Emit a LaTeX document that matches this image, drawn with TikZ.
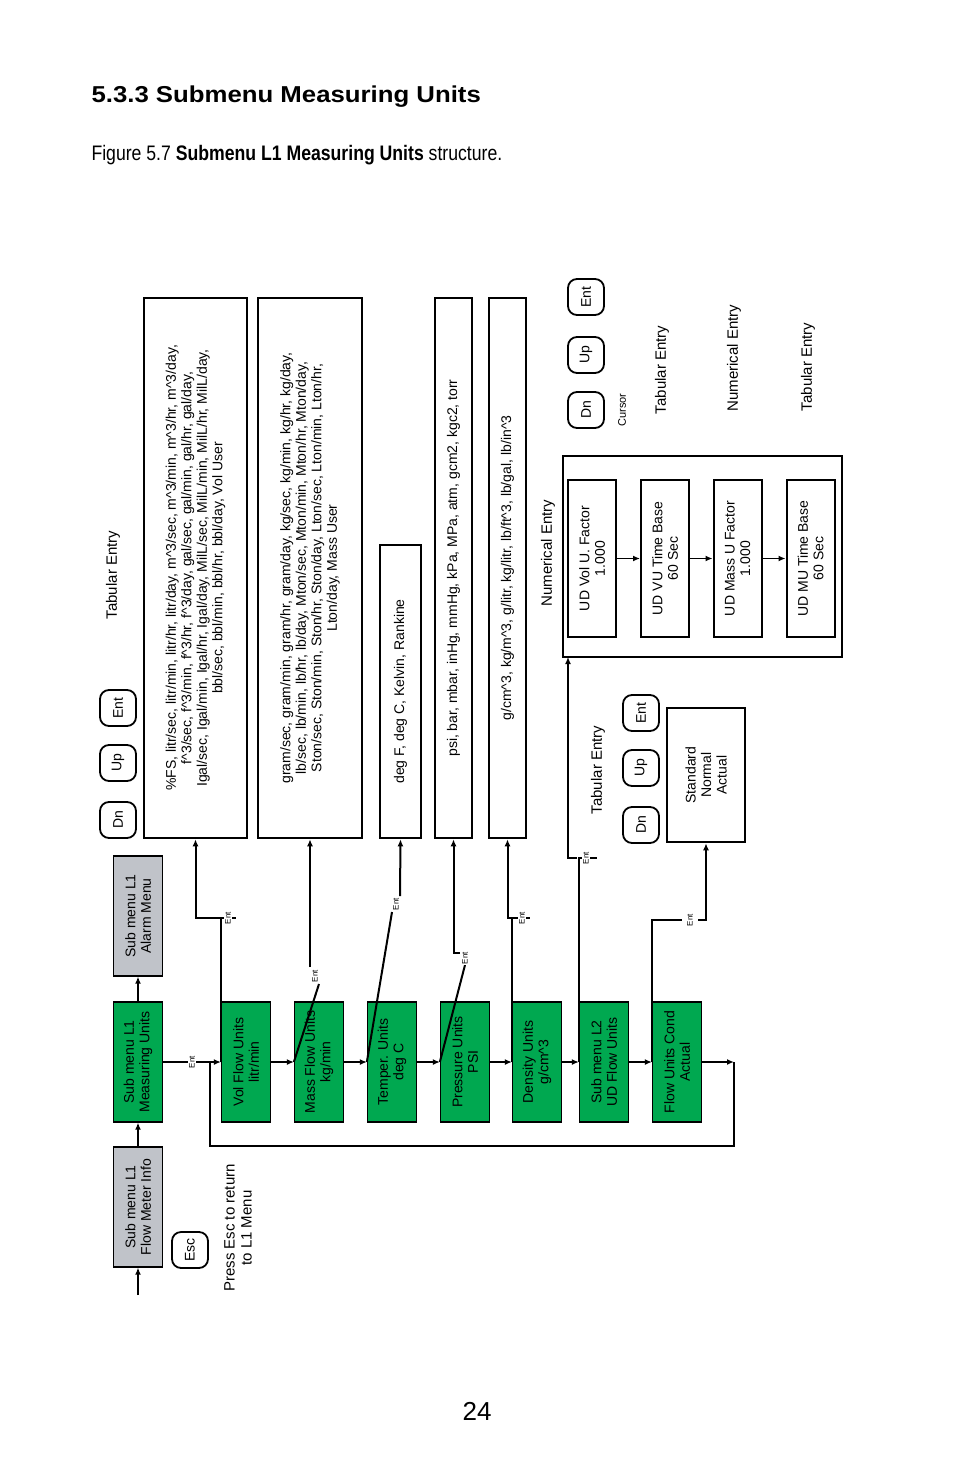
\documentclass[tikz,border=0pt]{standalone}
\usepackage{fontspec}
\setmainfont{Liberation Sans}
\usepackage{tikz}
\usetikzlibrary{arrows.meta,positioning}
\definecolor{menugreen}{RGB}{0,168,80}
\definecolor{menugray}{RGB}{192,195,201}

\begin{document}
\begin{tikzpicture}[
  x=1pt, y=-1pt,
  font=\fontsize{14}{15.5}\selectfont,
  menu/.style={draw, line width=1.3pt, fill=menugreen, rotate=90, align=center, minimum width=120pt, minimum height=49pt, inner sep=1pt},
  side/.style={menu, fill=menugray},
  list/.style={draw, line width=2.6pt, rotate=90, align=center, inner sep=2pt},
  inbox/.style={draw, line width=2pt, rotate=90, align=center, minimum width=157pt, minimum height=48pt},
  btn/.style={draw, line width=1.8pt, rounded corners=9pt, rotate=90, minimum width=36pt, minimum height=36pt, inner sep=0pt},
  lbl/.style={rotate=90, font=\fontsize{15}{17}\selectfont},
  entlbl/.style={rotate=90, fill=white, inner sep=1pt, font=\fontsize{8}{9}\selectfont},
  arr/.style={-{Latex[length=7pt,width=6pt]}, line width=2.4pt},
  link/.style={line width=2pt}
]
  \useasboundingbox (0,0) rectangle (954,1475);

  % headings
  \node[anchor=west, font=\fontsize{23}{26}\selectfont\bfseries] (title) at (88,97) {\addfontfeature{FakeStretch=1.12}5.3.3 Submenu Measuring Units};
  \node[anchor=west, font=\fontsize{21}{24}\selectfont] (caption) at (88,155) {\addfontfeature{FakeStretch=0.84}Figure 5.7 \textbf{Submenu L1 Measuring Units} structure.};
  \node[font=\fontsize{26}{28}\selectfont] (page) at (477,1411) {24};

  % level 1 menus
  \coordinate (entry) at (138,1295);
  \node[side] (info) at (138,1207) {Sub menu L1\\Flow Meter Info};
  \node[menu] (meas) at (138,1062) {Sub menu L1\\Measuring Units};
  \node[side] (alarm) at (138,916) {Sub menu L1\\Alarm Menu};
  \draw[arr] (entry) -- (info);
  \draw[arr] (info) -- (meas);
  \draw[arr] (meas) -- (alarm);

  \node[btn] (esc) at (190,1250) {Esc};
  \node[lbl, align=center] (escnote) at (238,1228) {Press Esc to return\\to L1 Menu};

  % measuring unit items
  \node[menu] (vol) at (246,1062) {Vol Flow Units\\litr/min};
  \node[menu] (mass) at (319,1062) {Mass Flow Units\\kg/min};
  \node[menu] (temp) at (392,1062) {Temper. Units\\deg C};
  \node[menu] (press) at (465,1062) {Pressure Units\\PSI};
  \node[menu] (dens) at (537,1062) {Density Units\\g/cm\textasciicircum3};
  \node[menu] (udflow) at (604,1062) {Sub menu L2\\UD Flow Units};
  \node[menu] (cond) at (677,1062) {Flow Units Cond\\Actual};

  \draw[arr] (meas) -- node[entlbl]{Ent} (vol);
  \draw[arr] (vol) -- (mass);
  \draw[arr] (mass) -- (temp);
  \draw[arr] (temp) -- (press);
  \draw[arr] (press) -- (dens);
  \draw[arr] (dens) -- (udflow);
  \draw[arr] (udflow) -- (cond);
  \coordinate (loopc) at (734,1062);
  \draw[arr] (cond) -- (loopc);
  \draw[line width=2.4pt] (loopc) |- (210,1146) -- (210,1062);

  % unit lists
  \node[list, minimum width=540pt, minimum height=103pt] (vollist) at (195.5,568) {\%FS, litr/sec, litr/min, litr/hr, litr/day, m\textasciicircum3/sec, m\textasciicircum3/min, m\textasciicircum3/hr, m\textasciicircum3/day,\\f\textasciicircum3/sec, f\textasciicircum3/min, f\textasciicircum3/hr, f\textasciicircum3/day, gal/sec, gal/min, gal/hr, gal/day,\\Igal/sec, Igal/min, Igal/hr, Igal/day, MilL/sec, MilL/min, MilL/hr, MilL/day,\\bbl/sec, bbl/min, bbl/hr, bbl/day, Vol User};
  \node[list, minimum width=540pt, minimum height=104pt] (masslist) at (310,568) {gram/sec, gram/min, gram/hr, gram/day, kg/sec, kg/min, kg/hr, kg/day,\\lb/sec, lb/min, lb/hr, lb/day, Mton/sec, Mton/min, Mton/hr, Mton/day,\\Ston/sec, Ston/min, Ston/hr, Ston/day, Lton/sec, Lton/min, Lton/hr,\\Lton/day, Mass User};
  \node[list, minimum width=293pt, minimum height=41pt] (templist) at (400.5,691.5) {deg F, deg C, Kelvin, Rankine};
  \node[list, minimum width=540pt, minimum height=37pt] (presslist) at (453.5,568) {psi, bar, mbar, inHg, mmHg, kPa, MPa, atm, gcm2, kgc2, torr};
  \node[list, minimum width=540pt, minimum height=37pt] (denslist) at (507.5,568) {g/cm\textasciicircum3, kg/m\textasciicircum3, g/litr, kg/litr, lb/ft\textasciicircum3, lb/gal, lb/in\textasciicircum3};

  \node[lbl] (tabvol) at (113,575) {Tabular Entry};
  \node[btn] (dnvol) at (118,820) {Dn};
  \node[btn] (upvol) at (118,763) {Up};
  \node[btn] (entvol) at (118,708) {Ent};

  % Ent links to the lists
  \draw[link] (vol.north) |- (236,918);
  \draw[link, -{Latex[length=7pt,width=6pt]}] (221,918) -| (vollist.west);
  \node[entlbl] at (228,918) {Ent};
  \draw[link] (mass.north) -- (319,984);
  \draw[link, -{Latex[length=7pt,width=6pt]}] (310,967) -- (masslist.west);
  \node[entlbl] at (315,976) {Ent};
  \draw[link] (temp.north) -- (392,912);
  \draw[link, -{Latex[length=7pt,width=6pt]}] (400,896) -- (templist.west);
  \node[entlbl] at (396,904) {Ent};
  \draw[link] (press.north) -- (465,965);
  \draw[link, -{Latex[length=7pt,width=6pt]}] (460,953) -| (presslist.west);
  \node[entlbl] at (465,958) {Ent};
  \draw[link] (dens.north) |- (530,918);
  \draw[link, -{Latex[length=7pt,width=6pt]}] (515,918) -| (denslist.west);
  \node[entlbl] at (522,918) {Ent};

  % UD flow units submenu
  \node[draw, line width=2.6pt, minimum width=279pt, minimum height=201pt] (udframe) at (702.5,556.5) {};
  \node[inbox] (udvol) at (592,558.5) {UD Vol U. Factor\\1.000};
  \node[inbox] (udvut) at (665,558.5) {UD VU Time Base\\60 Sec};
  \node[inbox] (udmass) at (737.5,558.5) {UD Mass U Factor\\1.000};
  \node[inbox] (udmut) at (810.5,558.5) {UD MU Time Base\\60 Sec};
  \draw[arr, line width=1.6pt] (udvol) -- (udvut);
  \draw[arr, line width=1.6pt] (udvut) -- (udmass);
  \draw[arr, line width=1.6pt] (udmass) -- (udmut);
  \node[lbl] (numud) at (548,553) {Numerical Entry};
  \draw[link] (udflow.north) |- (597,858);
  \draw[link, -{Latex[length=7pt,width=6pt]}] (577,858) -| (568,657);
  \node[entlbl] at (586,858) {Ent};

  \node[btn] (dnud) at (586,410) {Dn};
  \node[btn] (upud) at (586,355) {Up};
  \node[btn] (entud) at (586,297) {Ent};
  \node[rotate=90, font=\fontsize{11}{12}\selectfont] (cursor) at (622,410) {Cursor};
  \node[lbl] (tabud1) at (662,370) {Tabular Entry};
  \node[lbl] (numud2) at (734,358) {Numerical Entry};
  \node[lbl] (tabud2) at (808,367) {Tabular Entry};

  % flow units condition
  \node[draw, line width=2.6pt, rotate=90, align=center, minimum width=134pt, minimum height=78pt] (condlist) at (706,775) {Standard\\Normal\\Actual};
  \node[lbl] (tabcond) at (598,770) {Tabular Entry};
  \node[btn] (dncond) at (641,825) {Dn};
  \node[btn] (upcond) at (641,768) {Up};
  \node[btn] (entcond) at (641,713) {Ent};
  \draw[link] (cond.north) |- (682,920);
  \draw[link, -{Latex[length=7pt,width=6pt]}] (698,920) -| (condlist.west);
  \node[entlbl] at (690,920) {Ent};
\end{tikzpicture}
\end{document}
